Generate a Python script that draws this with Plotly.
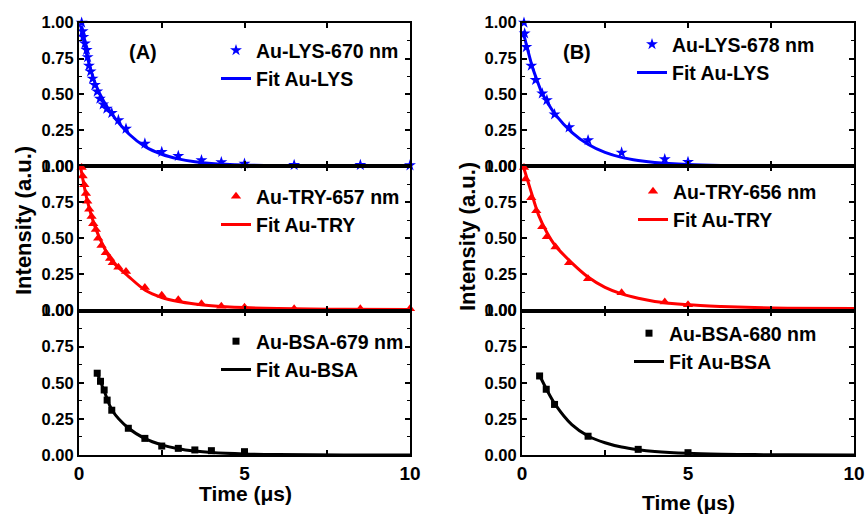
import plotly.graph_objects as go

W, H = 866, 515

# ---------------- data ----------------
# Panel A (left)
lys670_t = [0.08, 0.11, 0.13, 0.18, 0.23, 0.26, 0.30, 0.35, 0.41, 0.48, 0.55, 0.63, 0.73, 0.84, 0.99, 1.19, 1.42, 1.99, 2.5, 3.0, 3.7, 4.3, 5.0, 6.5, 8.5, 10.0]
lys670_y = [1.00, 0.94, 0.90, 0.855, 0.81, 0.76, 0.70, 0.66, 0.61, 0.565, 0.52, 0.47, 0.43, 0.40, 0.37, 0.32, 0.26, 0.156, 0.098, 0.07, 0.04, 0.026, 0.016, 0.007, 0.007, 0.005]
fit_lys670_t = [0.05, 0.25, 0.5, 0.75, 1.0, 1.5, 2.0, 2.5, 3.0, 3.5, 4.0, 5.0, 6.0, 8.0, 10.0]
fit_lys670_y = [0.98, 0.76, 0.57, 0.45, 0.36, 0.225, 0.135, 0.082, 0.05, 0.03, 0.018, 0.007, 0.003, 0.001, 0.0]

try657_t = [0.08, 0.11, 0.16, 0.21, 0.25, 0.31, 0.38, 0.43, 0.51, 0.58, 0.68, 0.81, 0.94, 1.02, 1.19, 1.42, 1.99, 2.5, 3.0, 3.7, 4.3, 5.0, 6.5, 8.5, 10.0]
try657_y = [0.99, 0.93, 0.87, 0.81, 0.756, 0.70, 0.65, 0.60, 0.56, 0.50, 0.45, 0.40, 0.36, 0.33, 0.30, 0.27, 0.16, 0.105, 0.074, 0.047, 0.03, 0.023, 0.012, 0.012, 0.012]
fit_try657_t = [0.05, 0.25, 0.5, 0.75, 1.0, 1.5, 2.0, 2.5, 3.0, 3.5, 4.0, 5.0, 6.0, 7.0, 8.0, 10.0]
fit_try657_y = [0.99, 0.76, 0.57, 0.44, 0.34, 0.235, 0.14, 0.09, 0.062, 0.045, 0.033, 0.02, 0.013, 0.01, 0.008, 0.007]

bsa679_t = [0.55, 0.65, 0.76, 0.85, 0.99, 1.49, 1.99, 2.5, 3.0, 3.5, 4.0, 5.0]
bsa679_y = [0.566, 0.51, 0.45, 0.38, 0.31, 0.185, 0.115, 0.062, 0.046, 0.035, 0.03, 0.023]
fit_bsa679_t = [0.55, 0.75, 1.0, 1.5, 2.0, 2.5, 3.0, 3.5, 4.0, 5.0, 6.0, 8.0, 10.0]
fit_bsa679_y = [0.565, 0.45, 0.31, 0.185, 0.113, 0.07, 0.043, 0.027, 0.017, 0.007, 0.003, 0.0005, 0.0]

# Panel B (right)
lys678_t = [0.06, 0.08, 0.13, 0.28, 0.41, 0.61, 0.75, 0.98, 1.42, 1.99, 3.0, 4.3, 5.0]
lys678_y = [1.00, 0.925, 0.83, 0.70, 0.60, 0.506, 0.46, 0.36, 0.27, 0.18, 0.093, 0.047, 0.028]
fit_lys678_t = [0.03, 0.15, 0.3, 0.45, 0.6, 0.8, 1.0, 1.5, 2.0, 2.5, 3.0, 3.5, 4.0, 5.0, 6.0, 8.0, 10.0]
fit_lys678_y = [0.94, 0.83, 0.70, 0.60, 0.51, 0.43, 0.36, 0.235, 0.15, 0.095, 0.06, 0.038, 0.024, 0.01, 0.004, 0.001, 0.0]

try656_t = [0.06, 0.11, 0.28, 0.43, 0.61, 0.75, 1.01, 1.42, 1.99, 3.0, 4.3, 5.0]
try656_y = [0.99, 0.91, 0.78, 0.69, 0.58, 0.51, 0.44, 0.33, 0.22, 0.123, 0.058, 0.04]
fit_try656_t = [0.05, 0.25, 0.5, 0.75, 1.0, 1.5, 2.0, 2.5, 3.0, 3.5, 4.0, 5.0, 6.0, 7.0, 8.0, 10.0]
fit_try656_y = [0.99, 0.84, 0.66, 0.54, 0.45, 0.33, 0.23, 0.16, 0.115, 0.085, 0.063, 0.04, 0.028, 0.02, 0.016, 0.013]

bsa680_t = [0.53, 0.73, 0.98, 1.99, 3.5, 5.0]
bsa680_y = [0.547, 0.455, 0.35, 0.13, 0.039, 0.016]
fit_bsa680_t = [0.53, 0.75, 1.0, 1.5, 2.0, 2.5, 3.0, 3.5, 4.0, 5.0, 6.0, 7.0, 8.0, 10.0]
fit_bsa680_y = [0.55, 0.45, 0.35, 0.21, 0.13, 0.085, 0.055, 0.037, 0.025, 0.012, 0.006, 0.003, 0.001, 0.0]

y_ticks = [0, 0.25, 0.5, 0.75, 1.0]
y_ticktext = ["0.00", "0.25", "0.50", "0.75", "1.00"]
x_ticks = [0, 2.5, 5, 7.5, 10]
x_ticktext = ["0", "", "5", "", "10"]

# ---------------- layout helpers ----------------
FONT = "Liberation Sans, Arial, sans-serif"
def px_x(x):
    return x / W
def px_y(y):
    return 1 - y / H

col_dom = [[px_x(79), px_x(410)], [px_x(522), px_x(854)]]
row_px = [(22.7, 166), (166, 310.5), (310.5, 455)]
row_dom = [[px_y(b), px_y(t)] for (t, b) in row_px]

panels = [
    (0, 0, (lys670_t, lys670_y), (fit_lys670_t, fit_lys670_y), "Au-LYS-670 nm", "Fit Au-LYS", "#0000FF", "star", 9, (221, 52)),
    (0, 1, (try657_t, try657_y), (fit_try657_t, fit_try657_y), "Au-TRY-657 nm", "Fit Au-TRY", "#FF0000", "triangle-up", 9, (221, 198)),
    (0, 2, (bsa679_t, bsa679_y), (fit_bsa679_t, fit_bsa679_y), "Au-BSA-679 nm", "Fit Au-BSA", "#000000", "square", 7, (221, 343)),
    (1, 0, (lys678_t, lys678_y), (fit_lys678_t, fit_lys678_y), "Au-LYS-678 nm", "Fit Au-LYS", "#0000FF", "star", 9, (637, 46)),
    (1, 1, (try656_t, try656_y), (fit_try656_t, fit_try656_y), "Au-TRY-656 nm", "Fit Au-TRY", "#FF0000", "triangle-up", 9, (638, 193)),
    (1, 2, (bsa680_t, bsa680_y), (fit_bsa680_t, fit_bsa680_y), "Au-BSA-680 nm", "Fit Au-BSA", "#000000", "square", 7, (634, 335)),
]

fig = go.Figure()
layout = dict(
    template="none",
    width=W, height=H,
    margin=dict(l=0, r=0, t=0, b=0, autoexpand=False),
    paper_bgcolor="white", plot_bgcolor="white",
    showlegend=True,
    font=dict(family=FONT, color="black", weight="bold"),
)

for i, (c, r, pts, fit, name, fname, color, sym, msize, lpos) in enumerate(panels):
    n = i + 1
    xa = "x" if n == 1 else f"x{n}"
    ya = "y" if n == 1 else f"y{n}"
    lg = "legend" if n == 1 else f"legend{n}"
    fig.add_trace(go.Scatter(
        x=pts[0], y=pts[1], mode="markers", name=name,
        marker=dict(symbol=sym, size=msize, color=color, line=dict(width=0)),
        xaxis=xa, yaxis=ya, legend=lg, cliponaxis=False,
    ))
    fig.add_trace(go.Scatter(
        x=fit[0], y=fit[1], mode="lines", name=fname,
        line=dict(color=color, width=3, shape="spline", smoothing=0.8),
        xaxis=xa, yaxis=ya, legend=lg,
    ))
    bottom = (r == 2)
    layout["xaxis" if n == 1 else f"xaxis{n}"] = dict(
        domain=col_dom[c], anchor=ya, range=[0, 10], automargin=False,
        tickvals=x_ticks, ticktext=x_ticktext, ticks="inside", ticklen=5, tickwidth=1.5, tickcolor="black",
        showticklabels=bottom, ticklabeloverflow="allow",
        tickfont=dict(size=19, family=FONT, weight="bold", color="black"),
        showline=True, linewidth=2, linecolor="black", mirror="allticks",
        showgrid=False, zeroline=False, fixedrange=True,
    )
    layout["yaxis" if n == 1 else f"yaxis{n}"] = dict(
        domain=row_dom[r], anchor=xa, range=[0, 1], automargin=False,
        tickvals=y_ticks, ticktext=y_ticktext, ticks="inside", ticklen=5, tickwidth=1.5, tickcolor="black",
        minor=dict(tickvals=[0.125, 0.375, 0.625, 0.875], ticks="inside", ticklen=3, tickwidth=1.2, tickcolor="black"),
        tickfont=dict(size=16.5, family=FONT, weight="bold", color="black"),
        showline=True, linewidth=2, linecolor="black", mirror="allticks",
        showgrid=False, zeroline=False, fixedrange=True,
    )
    lx, ly = lpos
    layout[lg] = dict(
        x=px_x(lx - 5), y=px_y(ly - 21), xanchor="left", yanchor="top",
        bgcolor="rgba(0,0,0,0)", borderwidth=0,
        font=dict(size=19.5, family=FONT, weight="bold", color="black"),
        itemwidth=30, tracegroupgap=0,
    )

annos = []
for text, x, y in [("(A)", 143, 52), ("(B)", 577, 52)]:
    annos.append(dict(text=text, x=px_x(x), y=px_y(y), xref="paper", yref="paper",
                      xanchor="center", yanchor="middle", showarrow=False,
                      font=dict(size=20, family=FONT, weight="bold", color="black")))
for x, y in [(23, 221), (467, 237)]:
    annos.append(dict(text="Intensity (a.u.)", x=px_x(x), y=px_y(y), xref="paper", yref="paper",
                      textangle=-90, xanchor="center", yanchor="middle", showarrow=False,
                      font=dict(size=22, family=FONT, weight="bold", color="black")))
for x, y in [(245, 493), (688, 502)]:
    annos.append(dict(text="Time (μs)", x=px_x(x), y=px_y(y), xref="paper", yref="paper",
                      xanchor="center", yanchor="middle", showarrow=False,
                      font=dict(size=21, family=FONT, weight="bold", color="black")))
layout["annotations"] = annos

fig.update_layout(**layout)
fig.write_html(
    "out.html",
    config={"displayModeBar": False},
    post_script="document.body.style.margin='0';document.body.style.overflow='hidden';",
)
